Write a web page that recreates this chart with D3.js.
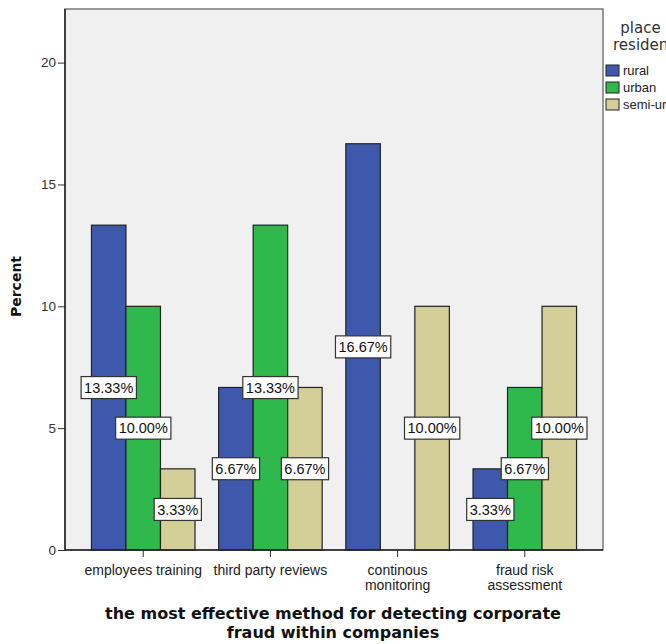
<!DOCTYPE html>
<html>
<head>
<meta charset="utf-8">
<script src="https://cdn.jsdelivr.net/npm/d3@7"></script>
<style>
  html, body { margin: 0; padding: 0; background: #fff; }
  svg { display: block; font-family: "Liberation Sans", Arial, sans-serif; }
</style>
</head>
<body>
<svg id="chart" width="666" height="644"></svg>
<script>
// Survey result: most effective method for detecting corporate fraud, by place of residence
const categories = [
  ["employees training"],
  ["third party reviews"],
  ["continous", "monitoring"],
  ["fraud risk", "assessment"]
];
const seriesNames = ["rural", "urban", "semi-urban"];
const rural     = [13.33, 6.67, 16.67, 3.33];
const urban     = [10.00, 13.33, 0, 6.67];
const semiUrban = [3.33, 6.67, 10.00, 10.00];
const yTicks = [0, 5, 10, 15, 20];
const colors = ["#3E58AC", "#2FB84B", "#D4CF98"];

const series = [rural, urban, semiUrban];
const svg = d3.select("#chart");
const wideFont = "'DejaVu Sans', Verdana, sans-serif";

const plot = { left: 65, right: 603, top: 9, bottom: 550 };

const catKeys = categories.map(c => c.join(" "));
const x0 = d3.scaleBand()
  .domain(catKeys)
  .range([plot.left, plot.right])
  .paddingInner(0.186)
  .paddingOuter(0.208);
const x1 = d3.scaleBand()
  .domain(seriesNames)
  .range([0, x0.bandwidth()]);
const y = d3.scaleLinear().domain([0, 22.2]).range([plot.bottom, plot.top]);

// plot background
svg.append("rect")
  .attr("x", plot.left).attr("y", plot.top)
  .attr("width", plot.right - plot.left).attr("height", plot.bottom - plot.top)
  .attr("fill", "#F0F0F0")
  .attr("stroke", "#7a7a7a").attr("stroke-width", 1.5);

// bars
const rows = [];
catKeys.forEach((k, i) => {
  seriesNames.forEach((s, j) => {
    rows.push({ cat: k, name: s, value: series[j][i], color: colors[j] });
  });
});

svg.append("g").selectAll("rect")
  .data(rows.filter(d => d.value > 0))
  .join("rect")
  .attr("x", d => x0(d.cat) + x1(d.name))
  .attr("y", d => y(d.value))
  .attr("width", x1.bandwidth())
  .attr("height", d => y(0) - y(d.value))
  .attr("fill", d => d.color)
  .attr("stroke", "#222")
  .attr("stroke-width", 1.2);

// y axis
const yAxis = d3.axisLeft(y).tickValues(yTicks).tickSize(7).tickPadding(2).tickFormat(d3.format("d"));
const gy = svg.append("g").attr("transform", `translate(${plot.left},0)`).call(yAxis);
gy.select(".domain").remove();
gy.selectAll(".tick line").attr("stroke", "#333");
gy.selectAll(".tick text").attr("font-size", 13.5).attr("fill", "#333")
  .attr("font-family", "'Liberation Sans', Arial, sans-serif");
svg.append("line")
  .attr("x1", plot.left).attr("x2", plot.left)
  .attr("y1", plot.top).attr("y2", plot.bottom)
  .attr("stroke", "#222").attr("stroke-width", 1.5);

// x axis
const xAxis = d3.axisBottom(x0).tickSize(7).tickFormat("");
const gx = svg.append("g").attr("transform", `translate(0,${plot.bottom})`).call(xAxis);
gx.select(".domain").remove();
gx.selectAll(".tick line").attr("stroke", "#333");
gx.selectAll(".tick").each(function(d, i) {
  const t = d3.select(this).append("text")
    .attr("text-anchor", "middle")
    .attr("fill", "#222")
    .attr("font-size", 14)
    .attr("font-family", "'Liberation Sans', Arial, sans-serif");
  categories[i].forEach((line, li) => {
    t.append("tspan").attr("x", 0).attr("y", 25 + li * 15).text(line);
  });
});
svg.append("line")
  .attr("x1", plot.left).attr("x2", plot.right)
  .attr("y1", plot.bottom).attr("y2", plot.bottom)
  .attr("stroke", "#222").attr("stroke-width", 1.5);

// value labels at mid-height of each bar
const labels = svg.append("g").selectAll("g")
  .data(rows.filter(d => d.value > 0))
  .join("g")
  .attr("transform", d => `translate(${x0(d.cat) + x1(d.name) + x1.bandwidth() / 2},${y(d.value / 2)})`);
labels.append("text")
  .attr("text-anchor", "middle")
  .attr("dy", "0.36em")
  .attr("font-size", 14.5)
  .attr("fill", "#111")
  .text(d => d.value.toFixed(2) + "%");
labels.each(function() {
  const g = d3.select(this);
  const bb = g.select("text").node().getBBox();
  g.insert("rect", "text")
    .attr("x", bb.x - 3).attr("y", -11)
    .attr("width", bb.width + 6).attr("height", 22)
    .attr("fill", "#fff").attr("stroke", "#333").attr("stroke-width", 1.2);
});

// axis titles
svg.append("text")
  .attr("transform", `translate(21,${(plot.top + plot.bottom) / 2 + 7}) rotate(-90)`)
  .attr("text-anchor", "middle")
  .attr("font-family", wideFont)
  .attr("font-size", 14).attr("font-weight", "bold").attr("fill", "#111")
  .text("Percent");

const xt = svg.append("text")
  .attr("text-anchor", "middle")
  .attr("font-family", wideFont)
  .attr("font-size", 16).attr("font-weight", "bold").attr("fill", "#111");
xt.append("tspan").attr("x", 333).attr("y", 619).text("the most effective method for detecting corporate");
xt.append("tspan").attr("x", 333).attr("y", 638).text("fraud within companies");

// legend title (runs past the right edge of the page)
const lt = svg.append("text")
  .attr("font-family", wideFont).attr("font-size", 15).attr("fill", "#333");
lt.append("tspan").attr("x", 640.5).attr("y", 33).attr("text-anchor", "middle").text("place");
lt.append("tspan").attr("x", 613).attr("y", 50).attr("text-anchor", "start").text("residence");

const leg = svg.append("g").selectAll("g")
  .data(seriesNames)
  .join("g")
  .attr("transform", (d, i) => `translate(606,${65 + i * 17})`);
leg.append("rect")
  .attr("width", 13).attr("height", 11)
  .attr("fill", (d, i) => colors[i])
  .attr("stroke", "#222").attr("stroke-width", 1);
leg.append("text")
  .attr("x", 17).attr("y", 10)
  .attr("font-size", 13).attr("fill", "#222")
  .text(d => d);
</script>
</body>
</html>
